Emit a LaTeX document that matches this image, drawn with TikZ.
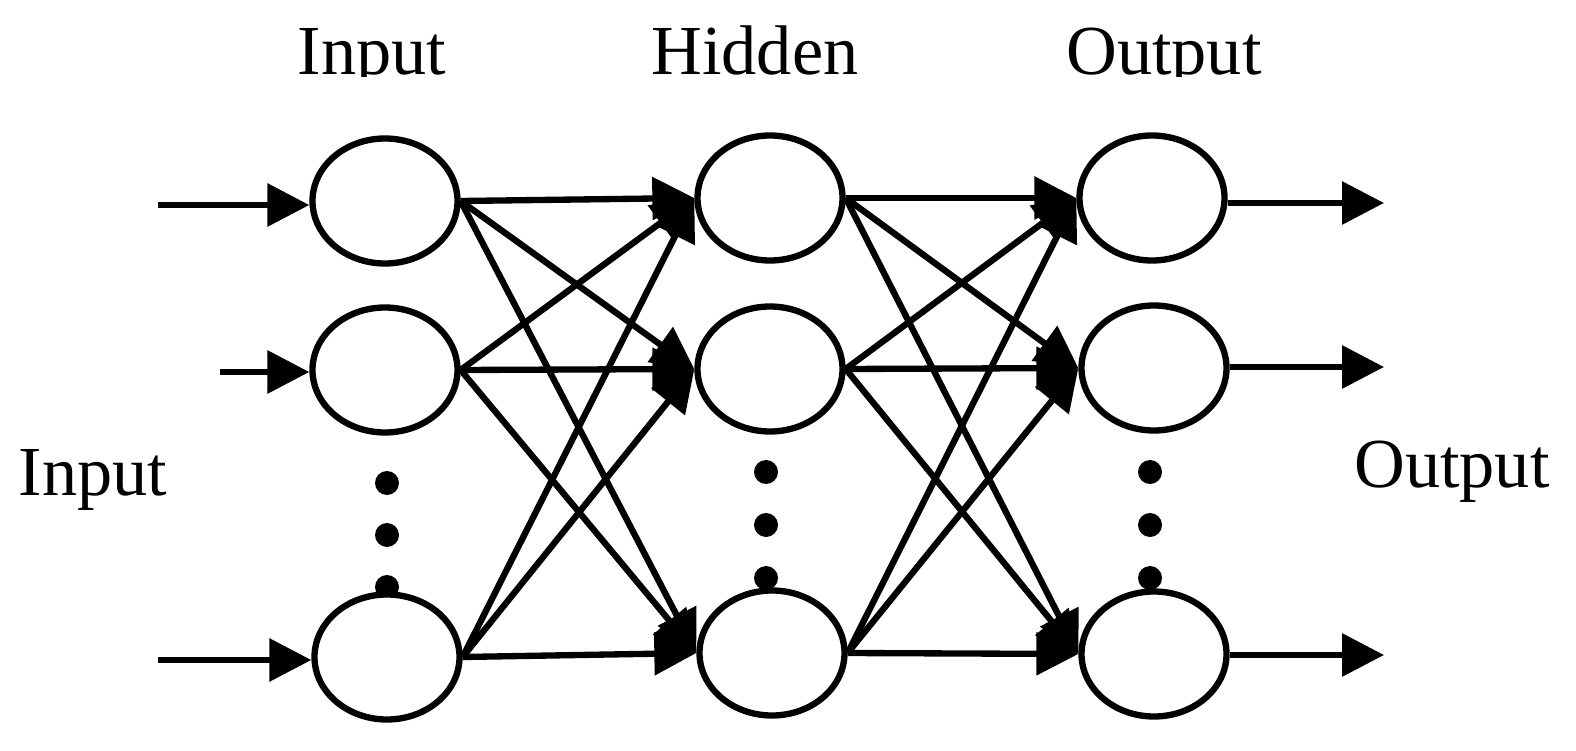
\documentclass[tikz,border=0pt]{standalone}
\usepackage{fontspec}
\setmainfont{Liberation Serif}
\usetikzlibrary{
    arrows.meta,
    shapes.geometric
}

\tikzset{
    neuron/.style={draw, ellipse, fill=white, line width=1.8pt,
        minimum width=1.45cm, minimum height=1.25cm, inner sep=0pt},
    conn/.style={line width=1.8pt, -{Triangle[length=4.2mm,width=4.2mm]}},
    layerlabel/.style={font=\fontsize{20}{24}\selectfont, anchor=base, inner sep=0pt}
}

\begin{document}
\begin{tikzpicture}

\useasboundingbox (0,0) rectangle (15.76,7.5);

% Dots
\foreach \y in {2.67,2.15,1.63} \fill (3.87,\y) circle (0.12);
\foreach \x in {7.66,11.50}
    \foreach \y in {2.78,2.25,1.72} \fill (\x,\y) circle (0.12);

% Layers
\node[neuron] (i1) at (3.85,5.49) {};
\node[neuron] (i2) at (3.85,3.80) {};
\node[neuron] (i3) at (3.87,0.93) {};

\node[neuron] (h1) at (7.70,5.52) {};
\node[neuron] (h2) at (7.70,3.81) {};
\node[neuron] (h3) at (7.72,0.97) {};

\node[neuron] (o1) at (11.52,5.52) {};
\node[neuron] (o2) at (11.54,3.82) {};
\node[neuron] (o3) at (11.54,0.96) {};

% Weights
\foreach \a in {i1,i2,i3}
    \foreach \b in {h1,h2,h3}
        \draw[conn] (\a.east) -- (\b.west);
\foreach \a in {h1,h2,h3}
    \foreach \b in {o1,o2,o3}
        \draw[conn] (\a.east) -- (\b.west);

% Inputs
\coordinate (in1) at (1.58,5.45);
\coordinate (in2) at (2.20,3.78);
\coordinate (in3) at (1.58,0.90);
\foreach \n in {1,2,3} \draw[conn] (in\n) -- (in\n -| i\n.west);

% Outputs
\coordinate (out1) at (13.84,5.47);
\coordinate (out2) at (13.84,3.83);
\coordinate (out3) at (13.84,0.95);
\foreach \n in {1,2,3} \draw[conn] (out\n -| o\n.east) -- (out\n);

% Labels
\begin{scope}
\clip (0,6.73) rectangle (15.76,7.5);
\node[layerlabel] (tin) at (3.72,6.75) {Input};
\node[layerlabel] (thid) at (7.55,6.75) {Hidden};
\node[layerlabel] (tout) at (11.64,6.75) {Output};
\end{scope}
\node[layerlabel] (lin) at (0.93,2.55) {Input};
\node[layerlabel] (lout) at (14.52,2.63) {Output};

\end{tikzpicture}
\end{document}
